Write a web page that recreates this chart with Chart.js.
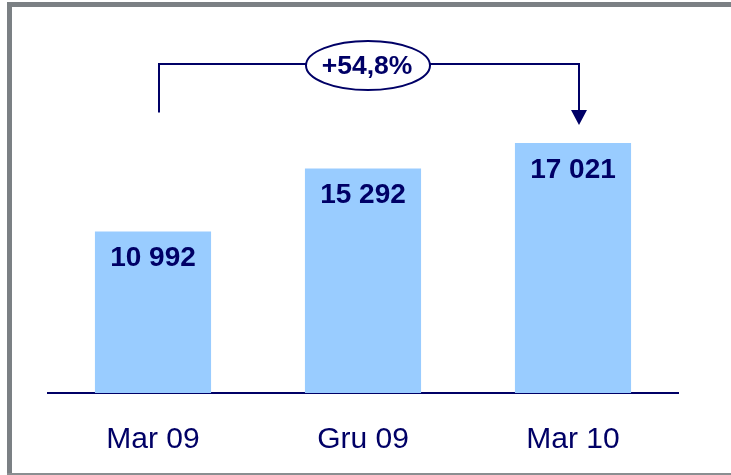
<!DOCTYPE html>
<html><head><meta charset="utf-8">
<script src="https://cdn.jsdelivr.net/npm/chart.js@4"></script>
<style>
html,body{margin:0;padding:0;background:#fff;}
canvas{display:block;}
</style></head><body>
<canvas id="c" width="731" height="475"></canvas>
<script>
const categories = ['Mar 09', 'Gru 09', 'Mar 10'];
const values = [10992, 15292, 17021];
const valueLabels = ['10 992', '15 292', '17 021'];
const changeLabel = '+54,8%';

const NAVY = '#000066';
const BAR = '#99CCFF';
const FONT = "'Liberation Sans', Arial, sans-serif";

const deco = {
  id: 'deco',
  beforeDraw(chart) {
    const ctx = chart.ctx;
    ctx.save();
    ctx.fillStyle = '#ffffff';
    ctx.fillRect(0, 0, chart.width, chart.height);
    ctx.fillStyle = '#7b8084';
    ctx.fillRect(7, 2, chart.width - 7, 5);
    ctx.fillRect(7, 2, 5, chart.height - 2);
    ctx.fillStyle = '#8a8e91';
    ctx.fillRect(7, 473, chart.width - 7, 2);
    ctx.restore();
  },
  afterDatasetsDraw(chart) {
    const ctx = chart.ctx;
    const meta = chart.getDatasetMeta(0);
    ctx.save();
    ctx.fillStyle = NAVY;
    ctx.font = "bold 28px " + FONT;
    ctx.textAlign = 'center';
    ctx.textBaseline = 'middle';
    meta.data.forEach((bar, i) => {
      ctx.fillText(valueLabels[i], bar.x, bar.y + 27);
    });
    const b0 = meta.data[0], b2 = meta.data[meta.data.length - 1];
    const xL = b0.x + 6, xR = b2.x + 6;
    const yTop = chart.chartArea.top + 44;
    ctx.strokeStyle = NAVY;
    ctx.lineWidth = 2;
    ctx.beginPath();
    ctx.moveTo(xL, b0.y - 119);
    ctx.lineTo(xL, yTop);
    ctx.lineTo(xR, yTop);
    ctx.lineTo(xR, b2.y - 32);
    ctx.stroke();
    ctx.beginPath();
    ctx.moveTo(xR - 8, b2.y - 33);
    ctx.lineTo(xR + 8, b2.y - 33);
    ctx.lineTo(xR, b2.y - 18);
    ctx.closePath();
    ctx.fill();
    const cx = (xL + xR) / 2 - 1, cy = yTop + 1.5;
    ctx.beginPath();
    ctx.ellipse(cx, cy, 62, 24.5, 0, 0, Math.PI * 2);
    ctx.fillStyle = '#ffffff';
    ctx.fill();
    ctx.stroke();
    ctx.fillStyle = NAVY;
    ctx.font = "bold 26.5px " + FONT;
    ctx.fillText(changeLabel, cx - 1, cy + 1.5);
    ctx.restore();
  }
};

new Chart(document.getElementById('c'), {
  type: 'bar',
  data: {
    labels: categories,
    datasets: [{
      data: values,
      backgroundColor: BAR,
      borderWidth: 0,
      categoryPercentage: 1,
      barPercentage: 0.553
    }]
  },
  options: {
    responsive: false,
    animation: false,
    devicePixelRatio: 1,
    layout: { padding: { left: 48, right: 53, top: 20, bottom: 20 } },
    plugins: { legend: { display: false }, tooltip: { enabled: false } },
    scales: {
      x: {
        grid: { display: false, drawTicks: false },
        border: { display: true, color: NAVY, width: 2 },
        ticks: { color: NAVY, font: { family: FONT, size: 30 }, padding: 29 },
        afterFit(scale) { scale.height = 62; }
      },
      y: { display: false, min: 0, max: 25400 }
    }
  },
  plugins: [deco]
});
</script>
</body></html>
